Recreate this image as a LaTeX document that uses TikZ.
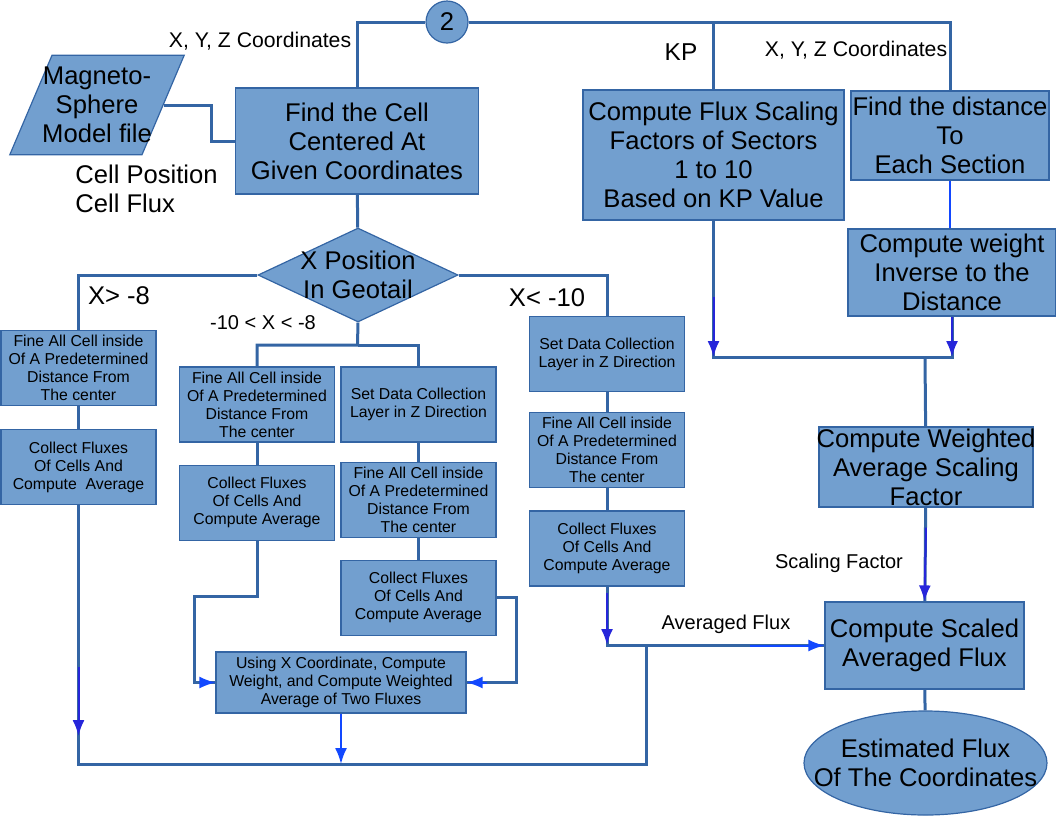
\documentclass[tikz,border=0pt]{standalone}
\usepackage{fontspec}
\setmainfont{Liberation Sans}
\usepackage{xcolor}
\usetikzlibrary{shapes,arrows.meta,positioning,shapes.geometric}

\definecolor{boxfill}{HTML}{729FCF}
\definecolor{boxline}{HTML}{3465A4}
\definecolor{tipdark}{RGB}{38,38,218}
\definecolor{tipbright}{RGB}{18,72,255}

\newcommand{\bigtext}{\fontsize{12.8}{14.5}\selectfont}
\newcommand{\smalltext}{\fontsize{7.9}{9}\selectfont}

\begin{document}
\begin{tikzpicture}[x=0.5pt, y=-0.5pt, node distance=11pt,
    bigbox/.style={draw=boxline, fill=boxfill, line width=0.6pt, align=center, font=\bigtext, inner sep=0pt},
    smallbox/.style={draw=boxline, fill=boxfill, line width=0.6pt, align=center, font=\smalltext, inner sep=0pt, minimum width=77.5pt, minimum height=37.5pt},
    link/.style={draw=boxline, line width=1.5pt},
    tipdk/.style={draw=tipdark, fill=tipdark, line width=1pt, -{Latex[length=8pt,width=6pt]}},
    tipbr/.style={draw=tipbright, fill=tipbright, line width=1pt, -{Latex[length=8pt,width=6pt]}},
    lbl/.style={font=\fontsize{10}{12}\selectfont, inner sep=0pt}
]
    \useasboundingbox (0,0) rectangle (1056,816);

    \node[bigbox, circle, minimum size=21pt] (c2) at (447,22) {2};
    \node[bigbox, trapezium, trapezium left angle=67, trapezium right angle=113, inner xsep=-4.9pt, inner ysep=5.9pt] (model) at (97,105) {Magneto-\\Sphere\\Model file};
    \node[bigbox, minimum width=121.5pt, minimum height=53pt] (findcell) at (357,141) {Find the Cell\\Centered At\\Given Coordinates};
    \node[bigbox, diamond, aspect=2.13, minimum width=100pt, minimum height=47pt, inner sep=-3pt] (xpos) at (358,275) {X Position\\In Geotail};

    \node[bigbox, minimum width=130.5pt, minimum height=65pt] (fscale) at (713.5,155) {Compute Flux Scaling\\Factors of Sectors\\1 to 10\\Based on KP Value};
    \node[bigbox, minimum width=99pt, minimum height=44.5pt] (gdist) at (950,135.5) {Find the distance\\To\\Each Section};
    \node[bigbox, minimum width=104pt, minimum height=43.5pt] (hweight) at (952,272.5) {Compute weight\\Inverse to the\\Distance};
    \node[bigbox, minimum width=107pt, minimum height=40pt, inner xsep=-1.4pt] (iwavg) at (926,467) {Compute Weighted\\Average Scaling\\Factor};
    \node[bigbox, minimum width=99.5pt, minimum height=43.5pt] (jscaled) at (924.5,645.5) {Compute Scaled\\Averaged Flux};
    \node[bigbox, ellipse, minimum width=121.5pt, minimum height=52pt, inner xsep=-13pt] (est) at (925.5,763) {Estimated Flux\\Of The Coordinates};

    \node[smallbox] (a1) at (78.5,368) {Fine All Cell inside\\Of A Predetermined\\Distance From\\The center};
    \node[smallbox, below=11.5pt of a1] (a2) {Collect Fluxes\\Of Cells And\\Compute\ \ Average};

    \node[smallbox] (b1) at (257,404.5) {Fine All Cell inside\\Of A Predetermined\\Distance From\\The center};
    \node[smallbox, below=of b1] (b2) {Collect Fluxes\\Of Cells And\\Compute Average};

    \node[smallbox] (d1) at (418.5,404.5) {Set Data Collection\\Layer in Z Direction};
    \node[smallbox, below=9.5pt of d1] (d2) {Fine All Cell inside\\Of A Predetermined\\Distance From\\The center};
    \node[smallbox, below=of d2] (d3) {Collect Fluxes\\Of Cells And\\Compute Average};

    \node[smallbox] (e1) at (607,354) {Set Data Collection\\Layer in Z Direction};
    \node[smallbox, below=10pt of e1] (e2) {Fine All Cell inside\\Of A Predetermined\\Distance From\\The center};
    \node[smallbox, below=of e2] (e3) {Collect Fluxes\\Of Cells And\\Compute Average};

    \node[smallbox, minimum width=125pt, minimum height=30.5pt] (avg2) at (341,682.5) {Using X Coordinate, Compute\\Weight, and Compute Weighted\\Average of Two Fluxes};

    \node[lbl, font=\fontsize{10.6}{12}\selectfont] (lxyz1) at (260,41) {X, Y, Z Coordinates};
    \node[lbl, font=\fontsize{10.6}{12}\selectfont] (lxyz2) at (856,50) {X, Y, Z Coordinates};
    \node[lbl, font=\fontsize{12.2}{14}\selectfont] (lkp) at (681,52) {KP};
    \node[lbl, font=\bigtext, align=left, anchor=west] (lcell) at (75,189) {Cell Position\\Cell Flux};
    \node[lbl, font=\bigtext] (lgt) at (119,296) {X> -8};
    \node[lbl, font=\bigtext] (llt) at (547,298) {X< -10};
    \node[lbl] (lmid) at (263,323) {-10 < X < -8};
    \node[lbl] (lavg) at (726,624) {Averaged Flux};
    \node[lbl] (lsf) at (839,563) {Scaling Factor};

    \coordinate (split) at (357.5,345);
    \coordinate (bl) at (78.5,764);
    \coordinate (br) at (646,764);
    \coordinate (jn) at (646,645);
    \coordinate (mg) at (925,357);
    \coordinate (aa) at (78.5,736);

    \draw[link] (c2.west) -| (findcell.north);
    \draw[link] (c2.east) -| (gdist.north);
    \draw[link] (c2.east) -| (fscale.north);
    \draw[link] (model.east) -- ++(48,0) |- (findcell.west);
    \draw[link] (findcell) -- (xpos);
    \draw[link] (xpos.west) -| (a1.north);
    \draw[link] (xpos.east) -| (e1.north);
    \draw[link] (xpos.south) -- (split) -| (b1.north);
    \draw[link] (split) -| (d1.north);

    \draw[link] (a1) -- (a2);
    \draw[link] (b1) -- (b2);
    \draw[link] (d1) -- (d2);
    \draw[link] (d2) -- (d3);
    \draw[link] (e1) -- (e2);
    \draw[link] (e2) -- (e3);

    \draw[link] (b2.south) -- ++(0,56) -- ++(-63,0) |- (avg2.west);
    \draw[link] (d3.east) -- ++(20,0) |- (avg2.east);
    \draw[link] (a2.south) |- (br) -- (jn);
    \draw[link] (e3.south) |- (jscaled.west);

    \draw[link] (fscale.south) |- (mg) -| (hweight.south);
    \draw[link, draw=tipbright, line width=1.2pt] (gdist.south) -- (gdist.south |- hweight.north);
    \draw[link] (mg) -- (iwavg);
    \draw[link] (iwavg) -- (jscaled);
    \draw[link] (jscaled) -- (est);

    \draw[tipdk] ([yshift=34.5pt]aa) -- (aa);
    \draw[tipbr] ([xshift=-6pt]avg2.west) -- (avg2.west);
    \draw[tipbr] ([xshift=10pt]avg2.east) -- (avg2.east);
    \draw[tipbr] (avg2.south) -- (avg2.south |- bl);
    \draw[tipdk] ([yshift=30pt]fscale.south |- mg) -- (fscale.south |- mg);
    \draw[tipdk] (hweight.south) -- (hweight.south |- mg);
    \draw[tipdk] ([yshift=-10pt]iwavg.south) -- (jscaled.north);
    \draw[tipdk] ([yshift=26pt]e3.south |- jn) -- (e3.south |- jn);
    \draw[tipbr] ([xshift=-37pt]jscaled.west) -- (jscaled.west);

\end{tikzpicture}
\end{document}
